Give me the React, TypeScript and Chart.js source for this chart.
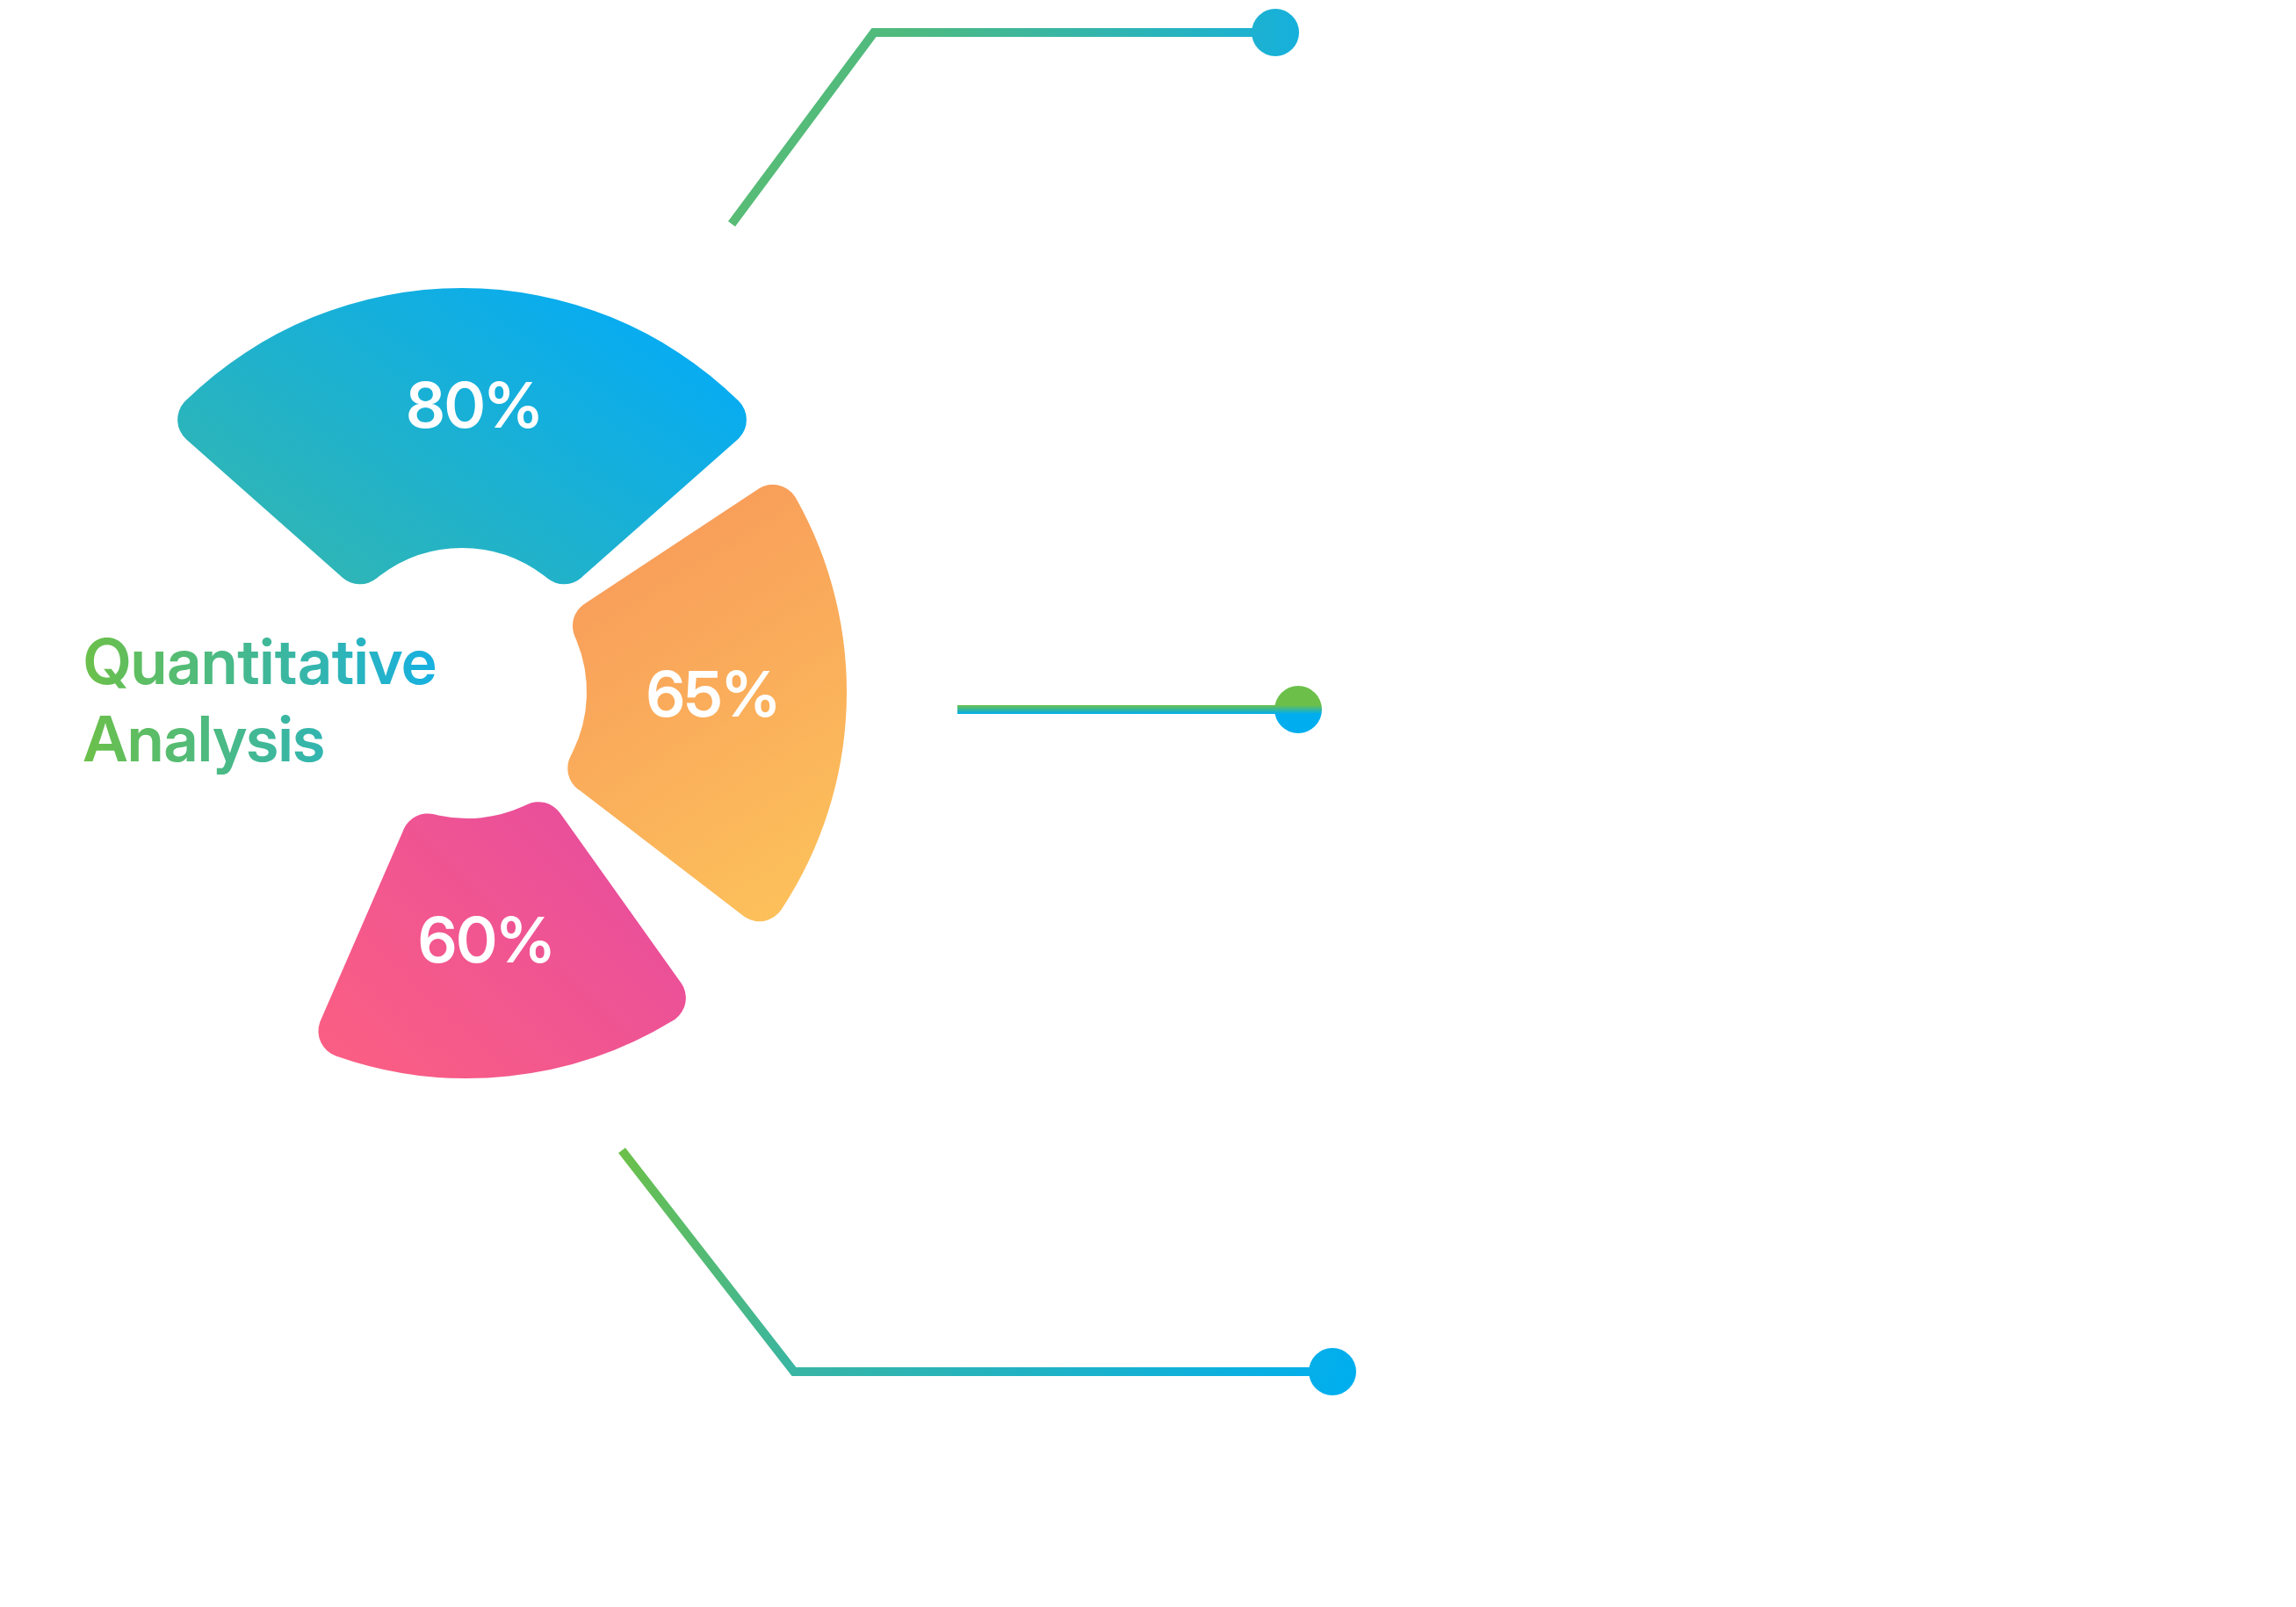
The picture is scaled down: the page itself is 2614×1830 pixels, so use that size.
import React, { useEffect, useRef } from 'react';
import { Chart, registerables } from 'chart.js';

Chart.register(...registerables);

// ---- data ----
const categories = ['Metric A', 'Metric B', 'Metric C'];
const percentValues = [80, 65, 60];
// angular size of each coloured sector, in degrees
const sectorSpans = [97, 71, 59];
// empty angle following each sector, in degrees
const gapSpans = [8, 17, 108];
const titleLines = ['Quantitative', 'Analysis'];

// ---- layout / style ----
const W = 2614;
const H = 1830;
const CX = 512;
const CY = 778;
const OUTER = 450;
const INNER = 154;
const START_ANGLE = -138.5; // screen degrees where the first sector starts
// small outward shift of each petal (pixels)
const petalShift = [
  { dx: 14, dy: 0 },
  { dx: 2, dy: 10 },
  { dx: 20, dy: 0 },
];
const labelNudge = [
  { dx: 14, dy: -11 },
  { dx: -4, dy: -4 },
  { dx: -10, dy: -4 },
];

const sectorColors = [
  { from: '#2DB5B8', to: '#08ACF0', g: [0.35, 1, 0.7, 0] },
  { from: '#F7945A', to: '#FDC55B', g: [0, 0, 1, 1] },
  { from: '#E64C9F', to: '#FA5E84', g: [0.85, 0, 0.15, 1] },
];

const ringData: number[] = [];
const ringLabels: string[] = [];
categories.forEach((c, i) => {
  ringData.push(sectorSpans[i], gapSpans[i]);
  ringLabels.push(c, '');
});

const toRad = (d: number) => (d * Math.PI) / 180;

function sectorGradient(chart: any, dataIndex: number) {
  if (dataIndex % 2 === 1) return 'rgba(0,0,0,0)';
  const k = dataIndex / 2;
  const ca = chart.chartArea;
  if (!ca) return sectorColors[k].from;
  const cx = (ca.left + ca.right) / 2 + petalShift[k].dx;
  const cy = (ca.top + ca.bottom) / 2 + petalShift[k].dy;
  let a0 = START_ANGLE;
  for (let i = 0; i < dataIndex; i++) a0 += ringData[i];
  const a1 = a0 + ringData[dataIndex];
  let minX = Infinity, minY = Infinity, maxX = -Infinity, maxY = -Infinity;
  for (let s = 0; s <= 40; s++) {
    const a = toRad(a0 + ((a1 - a0) * s) / 40);
    for (const r of [INNER, OUTER]) {
      const x = cx + Math.cos(a) * r;
      const y = cy + Math.sin(a) * r;
      minX = Math.min(minX, x); maxX = Math.max(maxX, x);
      minY = Math.min(minY, y); maxY = Math.max(maxY, y);
    }
  }
  const c = sectorColors[k];
  const w = maxX - minX;
  const h = maxY - minY;
  const g = chart.ctx.createLinearGradient(
    minX + c.g[0] * w, minY + c.g[1] * h, minX + c.g[2] * w, minY + c.g[3] * h
  );
  g.addColorStop(0, c.from);
  g.addColorStop(1, c.to);
  return g;
}

// leader lines: points relative to the ring centre
const leaders = [
  { pts: [[321, -523], [483, -741], [940, -741]], kind: 'top' },
  { pts: [[578, 30], [966, 30]], kind: 'mid' },
  { pts: [[196, 532], [392, 784], [1005, 784]], kind: 'bottom' },
];

const petalPlugin = {
  id: 'petalShift',
  afterDatasetsUpdate(chart: any) {
    const meta = chart.getDatasetMeta(0);
    const ca = chart.chartArea;
    const cx = (ca.left + ca.right) / 2;
    const cy = (ca.top + ca.bottom) / 2;
    petalShift.forEach((s, k) => {
      const arc = meta.data[k * 2];
      if (arc) {
        arc.x = cx + s.dx;
        arc.y = cy + s.dy;
      }
    });
  },
};

const overlayPlugin = {
  id: 'overlay',
  afterDatasetsDraw(chart: any) {
    const ctx: CanvasRenderingContext2D = chart.ctx;
    const ca = chart.chartArea;
    const cx = (ca.left + ca.right) / 2;
    const cy = (ca.top + ca.bottom) / 2;
    const meta = chart.getDatasetMeta(0);

    // percentage labels
    ctx.save();
    ctx.fillStyle = '#FFFFFF';
    ctx.font = '600 72px "Inter Display", Inter, sans-serif';
    ctx.textAlign = 'center';
    ctx.textBaseline = 'middle';
    percentValues.forEach((v, i) => {
      const arc = meta.data[i * 2];
      const p = arc.getCenterPoint();
      ctx.fillText(`${v}%`, p.x + labelNudge[i].dx, p.y + labelNudge[i].dy);
    });
    ctx.restore();

    // title
    ctx.save();
    ctx.font = '600 72px "Inter Display", Inter, sans-serif';
    ctx.textAlign = 'left';
    ctx.textBaseline = 'alphabetic';
    const tx = cx - 417;
    const tg = ctx.createLinearGradient(tx, 0, tx + 402, 0);
    tg.addColorStop(0, '#6CC04A');
    tg.addColorStop(1, '#16B0E2');
    ctx.fillStyle = tg;
    titleLines.forEach((t, i) => ctx.fillText(t, tx, cy + 1 + i * 88));
    ctx.restore();

    // leader lines
    leaders.forEach((ld) => {
      const pts = ld.pts.map(([x, y]) => [cx + x, cy + y]);
      const end = pts[pts.length - 1];
      let g: CanvasGradient;
      if (ld.kind === 'mid') {
        g = ctx.createLinearGradient(0, end[1] - 5, 0, end[1] + 5);
        g.addColorStop(0, '#6CC04A');
        g.addColorStop(1, '#00AEEF');
      } else if (ld.kind === 'top') {
        g = ctx.createLinearGradient(pts[0][0], 0, end[0] + 27, 0);
        g.addColorStop(0, '#58BC76');
        g.addColorStop(0.3, '#4FBA7E');
        g.addColorStop(1, '#16B0DC');
      } else {
        g = ctx.createLinearGradient(pts[0][0], pts[0][1], end[0] + 27, end[1]);
        g.addColorStop(0, '#6CC04A');
        g.addColorStop(0.3, '#38B5A4');
        g.addColorStop(1, '#00AEEF');
      }
      ctx.save();
      ctx.strokeStyle = g;
      ctx.fillStyle = g;
      ctx.lineWidth = 10;
      ctx.lineCap = 'butt';
      ctx.lineJoin = 'miter';
      ctx.beginPath();
      ctx.moveTo(pts[0][0], pts[0][1]);
      for (let i = 1; i < pts.length; i++) ctx.lineTo(pts[i][0], pts[i][1]);
      ctx.stroke();
      ctx.beginPath();
      ctx.arc(end[0], end[1], 27, 0, Math.PI * 2);
      ctx.fill();
      ctx.restore();
    });
  },
};

export default function App() {
  const ref = useRef<HTMLCanvasElement | null>(null);
  useEffect(() => {
    if (!ref.current) return;
    const chart = new Chart(ref.current, {
      type: 'doughnut',
      data: {
        labels: ringLabels,
        datasets: [
          {
            data: ringData,
            backgroundColor: (c: any) => sectorGradient(c.chart, c.dataIndex),
            borderWidth: 0,
            borderRadius: 30,
            hoverOffset: 0,
          },
        ],
      },
      options: {
        responsive: false,
        animation: false,
        devicePixelRatio: 1,
        events: [],
        rotation: START_ANGLE + 90,
        circumference: 360,
        radius: OUTER,
        cutout: `${(INNER / OUTER) * 100}%`,
        layout: {
          padding: { left: 0, top: 0, right: W - 2 * CX, bottom: H - 2 * CY },
        },
        plugins: {
          legend: { display: false },
          tooltip: { enabled: false },
          title: { display: false },
        },
      } as any,
      plugins: [petalPlugin, overlayPlugin],
    });
    return () => chart.destroy();
  }, []);
  return (
    <div style={{ position: 'absolute', left: 0, top: 0, width: W, height: H, background: '#fff' }}>
      <canvas ref={ref} width={W} height={H} style={{ width: W, height: H, display: 'block' }} />
    </div>
  );
}
